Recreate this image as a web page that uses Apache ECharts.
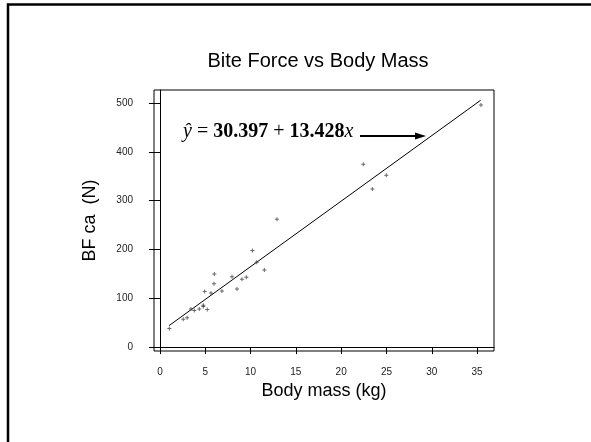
<!DOCTYPE html>
<html>
<head>
<meta charset="utf-8">
<script src="https://cdn.jsdelivr.net/npm/echarts@6/dist/echarts.min.js"></script>
<style>
  html, body { margin: 0; padding: 0; background: #fff; }
  #chart { width: 591px; height: 442px; }
</style>
</head>
<body>
<div id="chart"></div>
<script>
// 数据：体重 (kg) 与咬合力 (N)
var massKg = [1.03, 2.57, 3.0, 3.42, 3.79, 4.34, 4.78, 4.78, 5.22, 4.93, 5.63, 5.96, 6.0,
              6.84, 7.95, 8.5, 9.05, 9.53, 10.2, 10.67, 11.52, 12.91, 22.44, 23.44, 24.98, 35.43];
var biteN = [38, 57, 60, 78, 75, 78, 86, 83, 77, 114, 111, 130, 150,
             115, 144, 119, 139, 143, 198, 174, 158, 262, 375, 324, 352, 496];
// 回归线两端
var fitX = [1.0, 35.4];
var fitY = [44, 506];
var xTicks = [0, 5, 10, 15, 20, 25, 30, 35];
var yTicks = [0, 100, 200, 300, 400, 500];

var points = [];
for (var i = 0; i < massKg.length; i++) {
    points.push([massKg[i], biteN[i]]);
}
var fitLine = [];
for (var j = 0; j < fitX.length; j++) {
    fitLine.push([fitX[j], fitY[j]]);
}

var chart = echarts.init(document.getElementById('chart'));

var option = {
    animation: false,
    backgroundColor: '#fff',
    grid: {
        left: 154, top: 90, right: 97, bottom: 91,
        show: true, borderColor: '#000', borderWidth: 1
    },
    xAxis: {
        type: 'value',
        min: -0.66, max: 36.87,
        name: 'Body mass (kg)',
        nameLocation: 'middle',
        nameGap: 30,
        nameTextStyle: { fontFamily: 'Liberation Sans', fontSize: 18, color: '#000' },
        axisLine: { show: true, lineStyle: { color: '#000', width: 1 } },
        axisTick: { show: true, length: 7, customValues: xTicks, lineStyle: { color: '#000' } },
        axisLabel: {
            customValues: xTicks, margin: 16,
            fontFamily: 'Liberation Sans', fontSize: 10, color: '#222'
        },
        splitLine: { show: false }
    },
    yAxis: {
        type: 'value',
        min: -8, max: 527,
        name: 'BF ca  (N)',
        nameLocation: 'middle',
        nameGap: 55,
        nameTextStyle: { fontFamily: 'Liberation Sans', fontSize: 18, color: '#000' },
        axisLine: { show: true, lineStyle: { color: '#000', width: 1 } },
        axisTick: { show: true, length: 11, customValues: yTicks, lineStyle: { color: '#000' } },
        axisLabel: {
            customValues: yTicks, margin: 21,
            fontFamily: 'Liberation Sans', fontSize: 10, color: '#222'
        },
        splitLine: { show: false }
    },
    series: [
        {
            type: 'line',
            data: fitLine,
            showSymbol: false,
            symbol: 'none',
            lineStyle: { color: '#000', width: 1 },
            z: 2
        },
        {
            type: 'scatter',
            data: points,
            symbol: 'path://M-0.5,-2H0.5V-0.5H2V0.5H0.5V2H-0.5V0.5H-2V-0.5H-0.5Z',
            symbolSize: 4,
            itemStyle: { color: '#444' },
            z: 3
        }
    ],
    graphic: [
        // 外框
        {
            type: 'rect',
            shape: { x: 8, y: 4.5, width: 700, height: 600 },
            style: { fill: 'none', stroke: '#000', lineWidth: 2.5 },
            silent: true
        },
        {
            type: 'text',
            x: 318, y: 61,
            style: {
                text: 'Bite Force vs Body Mass',
                fontFamily: 'Liberation Sans', fontSize: 20,
                fill: '#000', align: 'center', verticalAlign: 'middle'
            }
        },
        // 回归方程
        {
            type: 'text',
            x: 183, y: 132,
            style: {
                text: '{i|ŷ}{n| = }{b|30.397}{n| + }{b|13.428}{i|x}',
                verticalAlign: 'middle',
                fill: '#000',
                rich: {
                    i: { fontFamily: 'Liberation Serif', fontSize: 20, fontStyle: 'italic' },
                    n: { fontFamily: 'Liberation Serif', fontSize: 20 },
                    b: { fontFamily: 'Liberation Serif', fontSize: 20, fontWeight: 'bold' }
                }
            }
        },
        {
            type: 'line',
            shape: { x1: 360, y1: 136, x2: 418, y2: 136 },
            style: { stroke: '#000', lineWidth: 2 }
        },
        {
            type: 'polygon',
            shape: { points: [[415, 132.5], [426, 136], [415, 139.5]] },
            style: { fill: '#000' }
        }
    ]
};

chart.setOption(option);
</script>
</body>
</html>
